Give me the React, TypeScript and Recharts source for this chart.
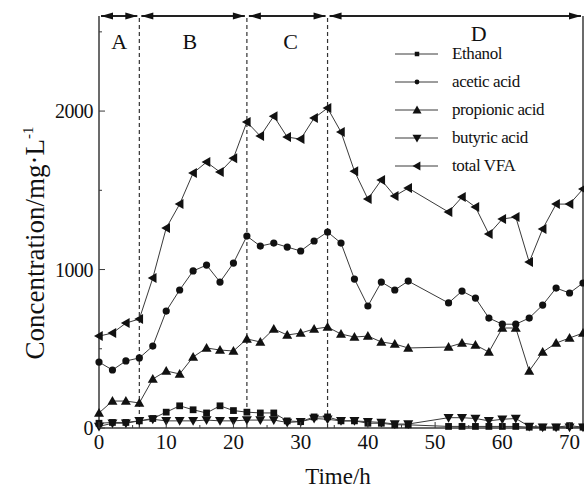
import React from 'react'
import { LineChart, Line, XAxis, YAxis, ReferenceLine, ReferenceDot, Legend } from 'recharts'

// sampling times (h) - no samples between 46 and 52
const times = [0, 2, 4, 6, 8, 10, 12, 14, 16, 18, 20, 22, 24, 26, 28, 30, 32, 34, 36, 38, 40, 42, 44, 46, 52, 54, 56, 58, 60, 62, 64, 66, 68, 70, 72]

const ethanol = [30, 35, 35, 45, 60, 100, 140, 115, 95, 140, 110, 100, 95, 95, 45, 40, 70, 70, 45, 45, 30, 30, 20, 20, 10, 10, 10, 10, 10, 10, 5, 5, 5, 15, 5]
const acetic = [416, 366, 423, 442, 517, 738, 871, 991, 1028, 921, 1041, 1211, 1148, 1167, 1142, 1117, 1180, 1237, 1167, 940, 770, 921, 871, 927, 789, 864, 820, 694, 655, 655, 694, 776, 883, 852, 915]
const propionic = [95, 170, 170, 158, 309, 360, 341, 448, 505, 492, 486, 562, 543, 625, 587, 599, 625, 637, 593, 574, 580, 543, 530, 505, 511, 536, 524, 479, 631, 631, 360, 479, 536, 568, 599]
const butyric = [10, 30, 30, 45, 55, 45, 45, 45, 50, 45, 45, 50, 50, 50, 35, 40, 60, 55, 45, 45, 40, 35, 25, 25, 65, 65, 60, 45, 55, 60, 10, 5, 5, 5, 5]
const totalVFA = [580, 599, 662, 688, 946, 1262, 1413, 1609, 1678, 1615, 1703, 1931, 1842, 1968, 1836, 1823, 1956, 2019, 1868, 1621, 1445, 1565, 1464, 1514, 1363, 1457, 1394, 1224, 1319, 1331, 1047, 1256, 1413, 1413, 1508]

const seriesKeys = ['ethanol', 'acetic', 'propionic', 'butyric', 'total']
const seriesNames = ['Ethanol', 'acetic acid', 'propionic acid', 'butyric acid', 'total VFA']
const seriesShapes = ['square', 'circle', 'up', 'down', 'left']

const phaseNames = ['A', 'B', 'C', 'D']
const phaseBounds = [0, 6, 22, 34, 72]
const phaseLabelAt = [3, 13.5, 28.5, 56.5]

const xTicks = [0, 5, 10, 15, 20, 25, 30, 35, 40, 45, 50, 55, 60, 65, 70]
const yTicks = [0, 500, 1000, 1500, 2000, 2500]

const data = times.map((t, i) => ({
  t,
  ethanol: ethanol[i],
  acetic: acetic[i],
  propionic: propionic[i],
  butyric: butyric[i],
  total: totalVFA[i],
}))

const FONT = 'Liberation Serif'
const INK = '#111'
const LINE = '#3a3a3a'

function Mark({ shape, cx, cy, s }: { shape: string; cx: number; cy: number; s: number }) {
  if (shape === 'square') return <rect x={cx - s * 0.75} y={cy - s * 0.75} width={s * 1.5} height={s * 1.5} fill={INK} />
  if (shape === 'circle') return <circle cx={cx} cy={cy} r={s * 0.8} fill={INK} />
  if (shape === 'up') return <polygon points={`${cx},${cy - s} ${cx - s},${cy + s * 0.75} ${cx + s},${cy + s * 0.75}`} fill={INK} />
  if (shape === 'down') return <polygon points={`${cx},${cy + s} ${cx - s},${cy - s * 0.75} ${cx + s},${cy - s * 0.75}`} fill={INK} />
  return <polygon points={`${cx - s},${cy} ${cx + s * 0.75},${cy - s} ${cx + s * 0.75},${cy + s}`} fill={INK} />
}

const XTick = (p: any) => {
  const v = p.payload.value
  const major = v % 10 === 0
  const axisY = p.y - 6
  return (
    <g>
      <line x1={p.x} y1={axisY} x2={p.x} y2={axisY - (major ? 6 : 3)} stroke={LINE} strokeWidth={1} />
      {major && (
        <text x={p.x} y={p.y} dy={15} textAnchor="middle" style={{ fontFamily: FONT }} fontSize={21} fill={INK}>
          {v}
        </text>
      )}
    </g>
  )
}

const YTick = (p: any) => {
  const v = p.payload.value
  const major = v % 1000 === 0
  const axisX = p.x + 6
  return (
    <g>
      <line x1={axisX} y1={p.y} x2={axisX + (major ? 6 : 3)} y2={p.y} stroke={LINE} strokeWidth={1} />
      {major && (
        <text x={p.x} y={p.y} dy={7} textAnchor="end" style={{ fontFamily: FONT }} fontSize={20} fill={INK} letterSpacing={-0.5}>
          {v}
        </text>
      )}
    </g>
  )
}

const XTitle = () => (
  <text x={338} y={484} textAnchor="middle" style={{ fontFamily: FONT }} fontSize={23} fill={INK}>
    Time/h
  </text>
)

const YTitle = () => (
  <text x={35} y={252} transform="rotate(-90 35 243)" textAnchor="middle" style={{ fontFamily: FONT }} fontSize={27} fill={INK}>
    <tspan>Concentration/mg·L</tspan>
    <tspan dy={-11} fontSize={15}>-1</tspan>
  </text>
)

const arrowShape = (p: any) => {
  const a = p.x1 + 2
  const b = p.x2 - 2
  const y = p.y1
  return (
    <g>
      <line x1={a} y1={y} x2={b} y2={y} stroke="#222" strokeWidth={2} />
      <polygon points={`${a},${y} ${a + 12},${y - 3.5} ${a + 12},${y + 3.5}`} fill={INK} />
      <polygon points={`${b},${y} ${b - 12},${y - 3.5} ${b - 12},${y + 3.5}`} fill={INK} />
    </g>
  )
}

const LegendBox = () => (
  <div style={{ fontFamily: FONT, fontSize: 17, color: INK, lineHeight: '28px' }}>
    {seriesNames.map((name, i) => (
      <div key={name} style={{ display: 'flex', alignItems: 'center', height: 28 }}>
        <svg width={61} height={16} style={{ flex: 'none' }}>
          <line x1={4} y1={8} x2={47} y2={8} stroke={LINE} strokeWidth={1} />
          <Mark shape={seriesShapes[i]} cx={26} cy={8} s={seriesShapes[i] === 'circle' || seriesShapes[i] === 'square' ? 3 : 4.5} />
        </svg>
        <span style={{ letterSpacing: -0.4 }}>{name}</span>
      </div>
    ))}
  </div>
)

export default function App() {
  return (
    <div style={{ position: 'absolute', left: 0, top: 0, background: '#fff', fontFamily: FONT }}>
      <LineChart width={584} height={490} data={data} margin={{ top: 16, right: 1, bottom: 0, left: 0 }}>
        <XAxis
          type="number"
          dataKey="t"
          domain={[0, 72]}
          ticks={xTicks}
          interval={0}
          tickSize={0}
          tickMargin={6}
          tickLine={false}
          tick={XTick}
          axisLine={{ stroke: LINE, strokeWidth: 1.5 }}
          height={62}
          label={<XTitle />}
        />
        <YAxis
          type="number"
          domain={[0, 2600]}
          ticks={yTicks}
          interval={0}
          tickSize={0}
          tickMargin={6}
          tickLine={false}
          tick={YTick}
          axisLine={{ stroke: LINE, strokeWidth: 1.5 }}
          width={99}
          label={<YTitle />}
        />
        <ReferenceLine x={72} stroke={LINE} strokeWidth={1.5} />
        {phaseBounds.slice(1, 4).map(b => (
          <ReferenceLine key={b} x={b} stroke="#333" strokeWidth={1.2} strokeDasharray="4 3" />
        ))}
        {phaseNames.map((n, i) => (
          <ReferenceLine
            key={'seg' + n}
            segment={[{ x: phaseBounds[i], y: 2600 }, { x: phaseBounds[i + 1], y: 2600 }]}
            shape={arrowShape}
          />
        ))}
        {phaseNames.map((n, i) => (
          <ReferenceDot
            key={'lab' + n}
            x={phaseLabelAt[i]}
            y={n === 'D' ? 2495 : 2440}
            r={0}
            shape={(p: any) => (
              <text x={p.cx} y={p.cy} dy={8} textAnchor="middle" style={{ fontFamily: FONT }} fontSize={22} fill={INK}>
                {n}
              </text>
            )}
          />
        ))}
        {seriesKeys.map((k, i) => (
          <Line
            key={k}
            dataKey={k}
            name={seriesNames[i]}
            stroke={LINE}
            strokeWidth={1}
            isAnimationActive={false}
            dot={(p: any) => <Mark key={k + p.index} shape={seriesShapes[i]} cx={p.cx} cy={p.cy} s={seriesShapes[i] === 'circle' || seriesShapes[i] === 'square' ? 4.5 : 5} />}
            activeDot={false}
          />
        ))}
        <Legend
          layout="vertical"
          align="center"
          verticalAlign="middle"
          wrapperStyle={{ top: 40, left: 391, width: 190, height: 145 }}
          content={LegendBox}
        />
      </LineChart>
    </div>
  )
}
